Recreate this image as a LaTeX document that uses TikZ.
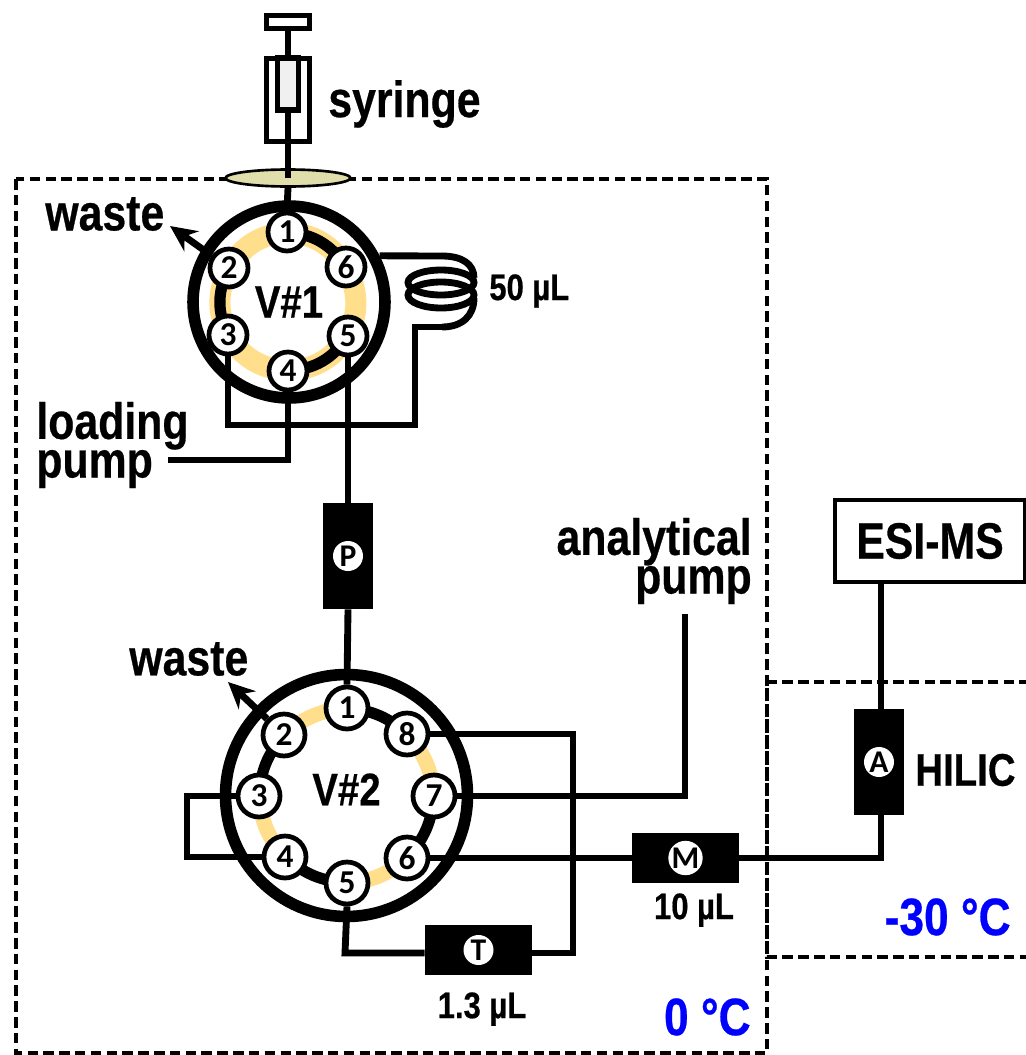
\documentclass[tikz,border=0pt]{standalone}
\usepackage{fontspec}
\setmainfont[FakeStretch=0.84,BoldFont={Liberation Sans Bold},BoldFeatures={FakeBold=0.5}]{Liberation Sans}
\newfontfamily\portfont{Carlito}[BoldFont={Carlito Bold}]
\usetikzlibrary{arrows.meta,backgrounds,shapes.geometric}

\definecolor{loopyellow}{RGB}{255,222,140}
\definecolor{ventkhaki}{RGB}{224,222,170}
\definecolor{inkblue}{RGB}{0,0,255}

\tikzset{
  tube/.style={line width=3.9pt, line cap=butt, line join=miter},
  enclosure/.style={line width=2.1pt, dash pattern=on 6pt off 3pt},
  valve/.style={circle, draw, line width=6.6pt, font=\bfseries\fontsize{26}{26}\selectfont},
  port/.style={circle, draw, fill=white, line width=2.7pt, inner sep=0pt, minimum size=0.76cm,
               font=\portfont\bfseries\fontsize{19}{19}\selectfont},
  bigport/.style={port, minimum size=0.84cm},
  column/.style={rectangle, fill=black, inner sep=0pt},
  columntag/.style={circle, fill=white, inner sep=0pt, minimum size=0.6cm,
                    font=\portfont\bfseries\fontsize{18}{18}\selectfont},
  bigtext/.style={font=\bfseries\fontsize{29}{22}\selectfont, inner sep=0pt},
  voltext/.style={font=\bfseries\fontsize{21}{21}\selectfont, inner sep=0pt},
  temptext/.style={font=\bfseries\fontsize{30}{30}\selectfont, text=inkblue, inner sep=0pt},
  syrpart/.style={rectangle, draw, line width=3pt, inner sep=0pt},
  passage/.style={line width=12pt, loopyellow},
  linked/.style={line width=6.4pt, black},
}

\begin{document}
\begin{tikzpicture}[x=0.02cm, y=-0.02cm]
\useasboundingbox (0,0) rectangle (1025,1055);

% Syringe
\node[syrpart, minimum width=0.86cm, minimum height=0.26cm] (plunger) at (288,22) {};
\node[syrpart, minimum width=0.86cm, minimum height=1.66cm] (barrel) at (288,100) {};
\node[syrpart, fill=gray!12, minimum width=0.42cm, minimum height=1.04cm] (piston) at (288,84) {};
\node[ellipse, draw, fill=ventkhaki, line width=1.5pt, minimum width=2.5cm, minimum height=0.34cm, inner sep=0pt] (vent) at (288,178) {};
\node[bigtext, anchor=west] (syrlabel) at (328,104) {syringe};

% Valve 1
\node[valve, minimum size=3.84cm] (vone) at (289,302) {\raisebox{-6pt}{V\#1}};
\node[port] (vone1) at (287,232) {1};
\node[port] (vone2) at (229,268) {2};
\node[port] (vone3) at (228,335) {3};
\node[port] (vone4) at (288,371) {4};
\node[port] (vone5) at (348,336) {5};
\node[port] (vone6) at (346,267) {6};

% Valve 2
\node[valve, minimum size=4.84cm] (vtwo) at (346.5,795.5) {\raisebox{7pt}{V\#2}};
\node[bigport] (vtwo1) at (347,708) {1};
\node[bigport] (vtwo2) at (284,735) {2};
\node[bigport] (vtwo3) at (259,796) {3};
\node[bigport] (vtwo4) at (285,857) {4};
\node[bigport] (vtwo5) at (347,883) {5};
\node[bigport] (vtwo6) at (407,858) {6};
\node[bigport] (vtwo7) at (434,796) {7};
\node[bigport] (vtwo8) at (407,734) {8};

% Columns
\node[column, minimum width=1cm, minimum height=2.12cm] (colP) at (348,556) {};
\node[columntag] (tagP) at (colP) {P};
\node[column, minimum width=2.14cm, minimum height=1cm] (colT) at (478.5,950) {};
\node[columntag] (tagT) at (colT) {T};
\node[column, minimum width=2.14cm, minimum height=1cm] (colM) at (685.5,858) {};
\node[columntag] (tagM) at (colM) {M};
\node[column, minimum width=1cm, minimum height=2.12cm] (colA) at (879,762) {};
\node[columntag] (tagA) at (colA) {A};

% Detector
\node[rectangle, draw, fill=white, line width=1.9pt, minimum width=3.8cm, minimum height=1.64cm,
      font=\bfseries\fontsize{29}{29}\selectfont, inner sep=0pt] (esims) at (930,541) {ESI-MS};

% Labels
\node[bigtext, anchor=west] (wasteone) at (45,214) {waste};
\node[bigtext, anchor=west] (wastetwo) at (129,659) {waste};
\node[bigtext, align=left, anchor=west] (loadlabel) at (36,445) {loading\\pump};
\node[bigtext, align=right, anchor=east] (analabel) at (752,561) {analytical\\pump};
\node[voltext, anchor=west] (vol50) at (489,291) {50 µL};
\node[voltext, anchor=north] (vol10) at (694,893) {10 µL};
\node[voltext, anchor=north] (vol13) at (482,992) {1.3 µL};
\node[font=\bfseries\fontsize{26}{26}\selectfont, inner sep=0pt, anchor=west] (hilic) at (915,770) {HILIC};
\node[temptext, anchor=east] (tempcold) at (751,1017) {0 °C};
\node[temptext, anchor=east] (tempfrozen) at (1011,917) {-30 °C};

% Free ends and bends
\coordinate (wasteAtip) at (170,226);
\coordinate (wasteBtip) at (228,682);
\coordinate (coiltop) at (442,256);
\coordinate (coilbot) at (442,327);
\coordinate (elbowT) at (345,953);
\coordinate (riserA) at (881,709);

% Enclosures and valve passages
\begin{scope}[on background layer]
  \draw[enclosure] (16,179) rectangle (767,1053);
  \draw[enclosure] (1030,682) -- (767,682) -- (767,957) -- (1030,957);
  \draw[passage] (vone1.center) to[bend right=26] (vone2.center);
  \draw[passage] (vone2.center) to[bend right=26] (vone3.center);
  \draw[passage] (vone3.center) to[bend right=26] (vone4.center);
  \draw[passage] (vone4.center) to[bend right=26] (vone5.center);
  \draw[passage] (vone5.center) to[bend right=26] (vone6.center);
  \draw[passage] (vone6.center) to[bend right=26] (vone1.center);
  \draw[linked] (vone2.center) to[bend right=26] (vone3.center);
  \draw[linked] (vone4.center) to[bend right=26] (vone5.center);
  \draw[linked] (vone6.center) to[bend right=26] (vone1.center);
  \draw[passage, line width=8.5pt] (vtwo1.center) to[bend right=18] (vtwo2.center);
  \draw[passage, line width=8.5pt] (vtwo3.center) to[bend right=18] (vtwo4.center);
  \draw[passage, line width=8.5pt] (vtwo5.center) to[bend right=18] (vtwo6.center);
  \draw[passage, line width=8.5pt] (vtwo7.center) to[bend right=18] (vtwo8.center);
  \draw[linked] (vtwo2.center) to[bend right=18] (vtwo3.center);
  \draw[linked] (vtwo4.center) to[bend right=18] (vtwo5.center);
  \draw[linked] (vtwo6.center) to[bend right=18] (vtwo7.center);
  \draw[linked] (vtwo8.center) to[bend right=18] (vtwo1.center);
\end{scope}

% Syringe lines
\draw[tube] (plunger.south) -- (barrel.north);
\draw[tube] (piston.south) -- (vent.center);
\draw[tube] (vent.south) -- (vone1.north);

% Lines of valve 1
\draw[tube, -{Stealth[length=15pt,width=14pt]}] (vone2) -- (wasteAtip);
\draw[tube] (vone.27) -- (coiltop);
\draw[tube] (coiltop) .. controls (462,256) and (474,264) .. (474,278);
\draw[tube] (441,282.5) ellipse [x radius=33, y radius=12.5];
\draw[tube] (441,295) ellipse [x radius=33, y radius=13];
\draw[tube] (474,298) .. controls (474,316) and (462,327) .. (coilbot);
\draw[tube] (vone3.south) -- (228,425) -- (415,425) -- (415,327) -- (coilbot);
\draw[tube] (vone4.south) -- (288,460) -- (168,460);
\draw[tube] (vone5.south) -- (colP.north);

% Lines of valve 2
\draw[tube] (colP.south) -- (vtwo1.north);
\draw[tube, -{Stealth[length=15pt,width=14pt]}] (vtwo2) -- (wasteBtip);
\draw[tube] (vtwo3.west) -- (187,796) -- (187,857) -- (vtwo4.west);
\draw[tube] (vtwo5.south) -- (elbowT) -- (elbowT -| colT.west);
\draw[tube] (vtwo8.east) -- (573,734) -- (573,953) -- (elbowT -| colT.east);
\draw[tube] (vtwo7.east) -- (685,796) -- (685,614);
\draw[tube] (vtwo6.east) -- (colM.west);
\draw[tube] (colM.east) -- (881,858) -- (riserA |- colA.south);
\draw[tube] (riserA |- colA.north) -- (riserA |- esims.south);

\end{tikzpicture}
\end{document}
